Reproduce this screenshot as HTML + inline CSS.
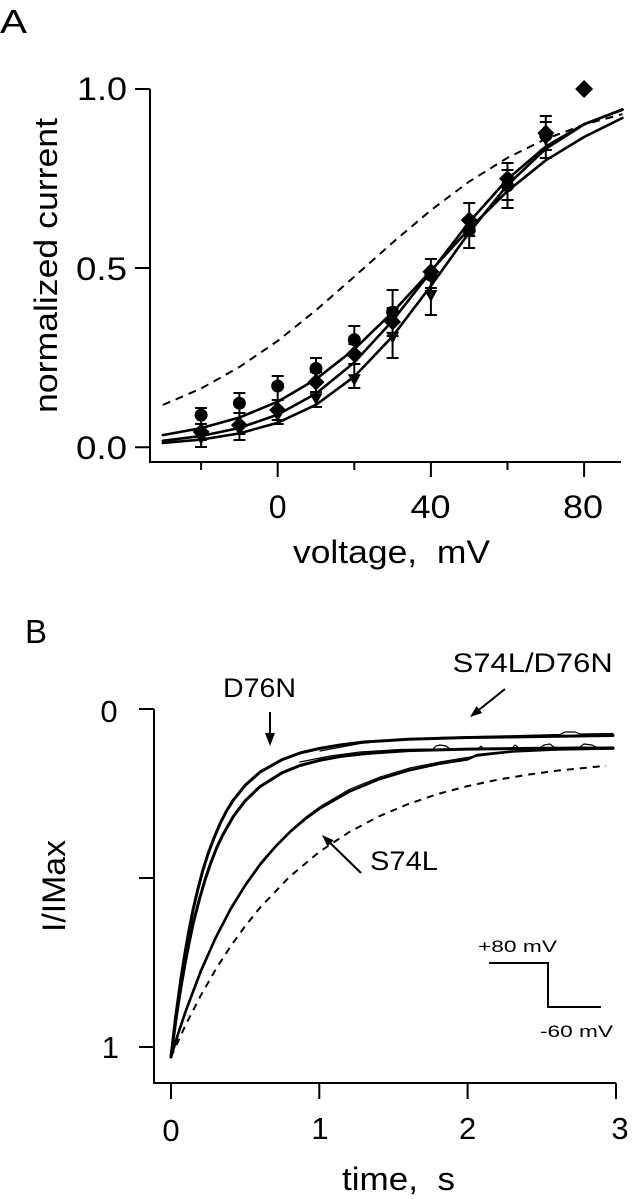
<!DOCTYPE html>
<html>
<head>
<meta charset="utf-8">
<style>
html,body{margin:0;padding:0;background:#fff;}
svg{display:block;}
text{font-family:"Liberation Sans",sans-serif;fill:#000;}
</style>
</head>
<body>
<svg width="634" height="1199" viewBox="0 0 634 1199" xmlns="http://www.w3.org/2000/svg">
<rect x="0" y="0" width="634" height="1199" fill="#fff"/>

<!-- ================= PANEL A ================= -->
<text x="0" y="33" font-size="33" textLength="27" lengthAdjust="spacingAndGlyphs">A</text>

<g stroke="#000" stroke-width="2" fill="none">
  <path d="M150,89 L150,462 L621,462"/>
  <path d="M135,89 H150 M135,268 H150 M135,447.3 H150"/>
  <path d="M201.1,462 V470 M277.7,462 V477 M354.3,462 V470 M430.9,462 V477 M507.5,462 V470 M584.1,462 V477"/>
</g>

<text x="127" y="100" font-size="32" text-anchor="end" textLength="50" lengthAdjust="spacingAndGlyphs">1.0</text>
<text x="127" y="280" font-size="32" text-anchor="end" textLength="51" lengthAdjust="spacingAndGlyphs">0.5</text>
<text x="127" y="459" font-size="32" text-anchor="end" textLength="51" lengthAdjust="spacingAndGlyphs">0.0</text>

<text x="277.7" y="518" font-size="32" text-anchor="middle">0</text>
<text x="430.5" y="518" font-size="32" text-anchor="middle" textLength="40" lengthAdjust="spacingAndGlyphs">40</text>
<text x="583" y="518" font-size="32" text-anchor="middle" textLength="40" lengthAdjust="spacingAndGlyphs">80</text>

<text x="293" y="563" font-size="32" textLength="197" lengthAdjust="spacingAndGlyphs" xml:space="preserve">voltage,  mV</text>
<text transform="translate(57,265.5) rotate(-90)" font-size="32" text-anchor="middle" textLength="295" lengthAdjust="spacingAndGlyphs">normalized current</text>

<g fill="none" stroke="#000" stroke-linejoin="round" stroke-linecap="round">
  <polyline stroke-width="2" stroke-dasharray="8,6" stroke-linecap="butt" points="162.8,405 201.1,388.5 239.4,367 277.7,340.9 316,310.2 354.3,276.7 392.6,242.6 430.9,210.2 469.2,181.6 507.5,157.8 545.8,138.9 584.1,124.6 622.4,114.1"/>
  <polyline stroke-width="2.6" points="162.8,435.1 201.1,428.1 239.4,417.5 277.7,401.7 316,379.2 354.3,349.2 392.6,312.2 430.9,270.7 469.2,228.9 507.5,191.1 545.8,160.3 584.1,137 622.4,118"/>
  <polyline stroke-width="2.6" points="162.8,440.8 201.1,436 239.4,428 277.7,414.6 316,393.6 354.3,362.4 392.6,320.7 430.9,271.7 469.2,222.1 507.5,179.1 545.8,146.5 584.1,124.1 622.4,109.8"/>
  <polyline stroke-width="2.6" points="162.8,443 201.1,439.6 239.4,433.4 277.7,422.7 316,404.8 354.3,376.6 392.6,336.3 430.9,285.9 469.2,232.5 507.5,184.9 545.8,148.8 584.1,124.4 622.4,109.3"/>
</g>

<g fill="none" stroke="#000" stroke-width="2">
  <path d="M201.1,408 V447 M195,408 H207 M195,447 H207 M195,424 H207 M195,440 H207"/>
  <path d="M239.4,393 V440 M233.4,393 H245.4 M233.4,440 H245.4 M233.4,413 H245.4 M233.4,434 H245.4"/>
  <path d="M277.7,376 V424 M271.7,376 H283.7 M271.7,424 H283.7 M271.7,400 H283.7 M271.7,420 H283.7"/>
  <path d="M316,358 V407 M310,358 H322 M310,407 H322 M310,372 H322 M310,392 H322"/>
  <path d="M354.3,326 V388 M348.3,326 H360.3 M348.3,388 H360.3 M348.3,344 H360.3 M348.3,364 H360.3"/>
  <path d="M392.6,290 V358 M386.6,290 H398.6 M386.6,358 H398.6 M386.6,308 H398.6 M386.6,336 H398.6"/>
  <path d="M430.9,259 V315 M424.9,259 H436.9 M424.9,315 H436.9 M424.9,288 H436.9"/>
  <path d="M469.2,203 V248 M463.2,203 H475.2 M463.2,248 H475.2 M463.2,218 H475.2 M463.2,236 H475.2"/>
  <path d="M507.5,163 V208 M501.5,163 H513.5 M501.5,208 H513.5 M501.5,170 H513.5 M501.5,200 H513.5"/>
  <path d="M545.8,116 V158 M539.8,116 H551.8 M539.8,158 H551.8 M539.8,122 H551.8 M539.8,150 H551.8"/>
</g>

<g fill="#000">
  <circle cx="201.1" cy="415.1" r="6.5"/>
  <circle cx="239.4" cy="403.2" r="6.5"/>
  <circle cx="277.7" cy="386" r="6.5"/>
  <circle cx="316" cy="368.5" r="6.5"/>
  <circle cx="354.3" cy="339.8" r="6.5"/>
  <circle cx="392.6" cy="312.2" r="6.5"/>
  <circle cx="430.9" cy="275.3" r="6.5"/>
  <circle cx="469.2" cy="230.2" r="6.5"/>
  <circle cx="507.5" cy="185.7" r="6.5"/>
  <circle cx="545.8" cy="135.6" r="6.5"/>
</g>
<g fill="#000">
  <polygon points="194.6,433 207.6,433 201.1,445"/>
  <polygon points="232.9,424.4 245.9,424.4 239.4,436.4"/>
  <polygon points="271.2,410.1 284.2,410.1 277.7,422.1"/>
  <polygon points="309.5,393.2 322.5,393.2 316,405.2"/>
  <polygon points="347.8,374.2 360.8,374.2 354.3,386.2"/>
  <polygon points="386.1,331.9 399.1,331.9 392.6,343.9"/>
  <polygon points="424.4,290 437.4,290 430.9,302"/>
  <polygon points="462.7,227.3 475.7,227.3 469.2,239.3"/>
  <polygon points="501,177.2 514,177.2 507.5,189.2"/>
  <polygon points="539.3,134.2 552.3,134.2 545.8,146.2"/>
</g>
<g fill="#000">
  <polygon points="201.1,423.4 209.6,431.9 201.1,440.4 192.6,431.9"/>
  <polygon points="239.4,416.6 247.9,425.1 239.4,433.6 230.9,425.1"/>
  <polygon points="277.7,401.5 286.2,410 277.7,418.5 269.2,410"/>
  <polygon points="316,373.6 324.5,382.1 316,390.6 307.5,382.1"/>
  <polygon points="354.3,345.6 362.8,354.1 354.3,362.6 345.8,354.1"/>
  <polygon points="392.6,313.4 401.1,321.9 392.6,330.4 384.1,321.9"/>
  <polygon points="430.9,263.2 439.4,271.7 430.9,280.2 422.4,271.7"/>
  <polygon points="469.2,211.6 477.7,220.1 469.2,228.6 460.7,220.1"/>
  <polygon points="507.5,170.1 516,178.6 507.5,187.1 499,178.6"/>
  <polygon points="545.8,124.6 554.3,133.1 545.8,141.6 537.3,133.1"/>
  <polygon points="584.1,80 593.1,89 584.1,98 575.1,89"/>
</g>

<!-- ================= PANEL B ================= -->
<text x="25" y="643" font-size="33" textLength="22" lengthAdjust="spacingAndGlyphs">B</text>

<g stroke="#000" stroke-width="2" fill="none">
  <path d="M154,709 L154,1083 L616,1083"/>
  <path d="M139,709 H154 M139,878 H154 M139,1047 H154"/>
  <path d="M171,1083 V1099 M319.3,1083 V1099 M467.6,1083 V1099 M616,1083 V1099"/>
</g>

<text x="109" y="722" font-size="31" text-anchor="middle">0</text>
<text x="119" y="1058" font-size="31" text-anchor="end">1</text>

<text x="171" y="1141" font-size="31" text-anchor="middle">0</text>
<text x="320" y="1139" font-size="31" text-anchor="middle">1</text>
<text x="467.6" y="1139" font-size="31" text-anchor="middle">2</text>
<text x="620" y="1139" font-size="31" text-anchor="middle">3</text>

<text x="342" y="1190" font-size="32" textLength="113" lengthAdjust="spacingAndGlyphs" xml:space="preserve">time,  s</text>
<text transform="translate(65,886) rotate(-90)" font-size="32" text-anchor="middle" textLength="92" lengthAdjust="spacingAndGlyphs">I/IMax</text>

<text x="223" y="697" font-size="27" textLength="73" lengthAdjust="spacingAndGlyphs">D76N</text>
<text x="452.7" y="672" font-size="27" textLength="160" lengthAdjust="spacingAndGlyphs">S74L/D76N</text>
<text x="370" y="870" font-size="27" textLength="68" lengthAdjust="spacingAndGlyphs">S74L</text>
<text x="478" y="952" font-size="17" textLength="79" lengthAdjust="spacingAndGlyphs">+80 mV</text>
<text x="540" y="1037" font-size="17" textLength="73" lengthAdjust="spacingAndGlyphs">-60 mV</text>

<g stroke="#000" stroke-width="2" fill="none">
  <path d="M270,712 V735"/>
  <path d="M505,689 L479.4,709.5"/>
  <path d="M361,873 L330.6,843.4"/>
  <path d="M489,963 H548 V1007 H601"/>
</g>
<g fill="#000">
  <polygon points="265,733 275,733 270,746"/>
  <polygon points="470,717 482.2,713 476.6,706"/>
  <polygon points="322,835 333.7,840.2 327.5,846.6"/>
</g>

<g fill="none" stroke="#000" stroke-linejoin="round" stroke-linecap="round">
  <polyline stroke-width="2" stroke-dasharray="7,6" stroke-linecap="butt" points="171,1057 185.8,1024.6 200.7,995.6 215.5,969.8 230.3,946.7 245.2,926.1 260,907.7 289.6,876.7 319.3,851.9 349,832.2 378.6,816.5 408.3,804 437.9,794 467.6,786.1 497.3,779.8 526.9,774.8 556.6,770.7 606,765.8"/>
  <polyline stroke-width="2.6" points="171,1057 178.4,1033 185.8,1010.9 200.7,971.5 215.5,938.1 230.3,909.6 245.2,885.4 260,864.8 274.8,847.3 289.6,832.3 304.5,819.6 319.3,808.8 349,791.7 378.6,779.4 408.3,770.5 437.9,764 467.6,759.3 477,755 512.1,751.5 556.6,749.5 613,748.5"/>
  <polyline stroke-width="1.2" points="172,1052 179,1029 187,1006 201,969 216,936 231,907 246,883 261,862 276,845 291,830 306,817 321,806 350,789 380,777 410,768 440,762 470,757 512,752 556,749 613,749"/>
  <!-- fast 1 -->
  <polyline stroke-width="3" points="171,1057 175.4,1018.8 178.4,997 181.4,975.4 185,953 188.8,931.3 193,910 197.7,889.9 202.5,871.5 208.1,853.6 214,838 220,823.7 226.5,811 233.3,800.1 245.2,785.3 260,772.1 282.2,759.6 300,753 319.3,748.5 340,745 363.8,742 408.3,739.3 467.6,737.5 541.8,736.5 613,735.5"/>
  <!-- fast 2 -->
  <polyline stroke-width="3" points="171,1057 175.4,1023.5 178.4,1003 181.4,984.7 185,964 188.8,944.4 193.5,922 199.2,900 205,880 211,862.3 217,847 222.9,834.7 233.3,816.5 245.2,800.8 260,786.6 282.2,772.7 300,765.5 319.3,760.4 340,756.5 363.8,753.7 408.3,750.6 467.6,749.1 541.8,748.3 613,748"/>
  <polyline stroke-width="1.2" points="300,762 330,756 360,752 400,749.5 433,749 436,746 440,745 446,746 450,749 478,749 481,746 484,749 512,748 515,745 519,748 540,748 544,745 550,744 555,748 580,747 584,744 592,745 598,748 613,747"/>
  <polyline stroke-width="1.2" points="320,751 360,743.5 400,739.5 440,737.5 500,736 560,734.5 565,732 575,732 580,734 613,733.5"/>
</g>
</svg>
</body>
</html>
